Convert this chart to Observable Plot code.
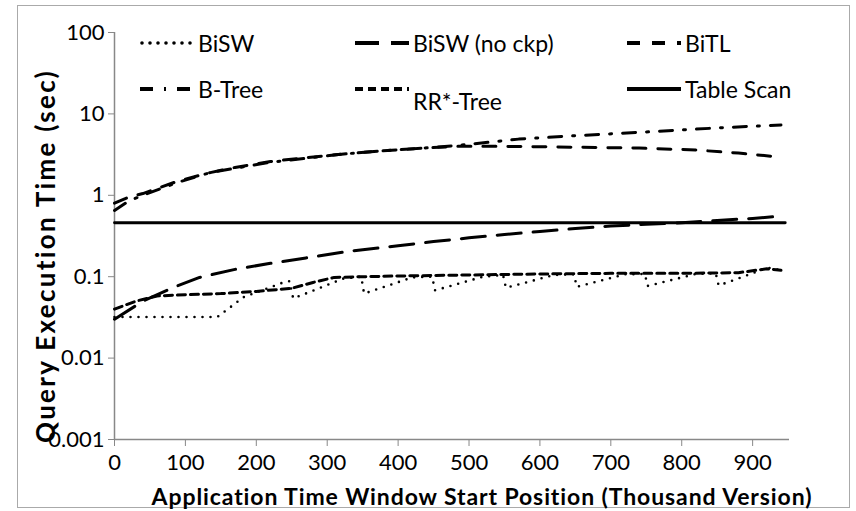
<!DOCTYPE html>
<html>
<head>
<meta charset="utf-8">
<script src="https://cdn.jsdelivr.net/npm/d3@7"></script>
<script src="https://cdn.jsdelivr.net/npm/@observablehq/plot@0.6"></script>
<style>
  html, body { margin:0; padding:0; background:#fff; }
  #wrap { position:relative; width:856px; height:511px; font-family:Lato, "Open Sans", sans-serif; }
  #border { position:absolute; left:17px; top:5px; width:833px; height:503px; border:1.5px solid #aaa; box-sizing:border-box; }
  #chart { position:absolute; left:0; top:0; }
  .lg { position:absolute; display:flex; align-items:center; font-size:23px; color:#000; }
  .lg svg { display:block; }
  #ylab { position:absolute; left:-155px; top:241px; width:400px; height:30px; line-height:30px; text-align:center; transform:rotate(-90deg); transform-origin:200px 15px; font-size:26px; font-weight:bold; letter-spacing:2.3px; white-space:nowrap; }
  #xlab { position:absolute; left:82px; top:482px; width:800px; height:28px; line-height:28px; text-align:center; font-size:23px; font-weight:bold; letter-spacing:0.9px; white-space:nowrap; }
</style>
</head>
<body>
<div id="wrap">
  <div id="border"></div>
  <div id="chart"></div>
  <div id="legend"></div>
  <div id="ylab">Query Execution Time (sec)</div>
  <div id="xlab">Application Time Window Start Position (Thousand Version)</div>
</div>
<script>
// ---- data ----
const xTicks = [0,100,200,300,400,500,600,700,800,900];
const yTicks = [0.001,0.01,0.1,1,10,100];
const yTickLabels = ["0.001","0.01","0.1","1","10","100"];

const biswX = [0,145,182,238,247,252,323,348,352,420,448,452,520,548,552,620,648,652,720,748,752,820,848,852,900,920,940];
const biswY = [0.032,0.032,0.056,0.085,0.088,0.054,0.095,0.1,0.062,0.098,0.1,0.068,0.1,0.105,0.073,0.105,0.107,0.075,0.107,0.108,0.077,0.108,0.11,0.078,0.11,0.13,0.12];

const noCkpX = [0,40,80,120,170,220,270,330,400,450,500,550,600,650,700,750,800,850,900,935];
const noCkpY = [0.03,0.05,0.072,0.098,0.123,0.146,0.17,0.205,0.24,0.27,0.3,0.33,0.36,0.39,0.42,0.44,0.46,0.49,0.52,0.55];

const bitlX = [0,20,40,90,135,170,220,270,320,375,435,485,540,650,740,820,880,930];
const bitlY = [0.8,0.95,1.05,1.5,1.9,2.2,2.6,2.9,3.2,3.5,3.8,4.0,4.0,3.9,3.8,3.6,3.3,3.0];

const btreeX = [0,20,40,90,135,170,220,270,320,375,435,485,570,650,750,860,940];
const btreeY = [0.65,0.85,1.0,1.45,1.9,2.15,2.55,2.85,3.2,3.5,3.8,4.1,4.9,5.4,6.0,6.8,7.3];

const rrX = [0,30,60,100,150,200,250,280,310,350,400,500,600,700,800,880,920,940];
const rrY = [0.04,0.05,0.058,0.06,0.062,0.066,0.072,0.085,0.098,0.1,0.102,0.105,0.108,0.11,0.11,0.112,0.125,0.12];

const scanX = [0,946];
const scanY = [0.46,0.46];

const seriesNames = ["BiSW","BiSW (no ckp)","BiTL","B-Tree","RR*-Tree","Table Scan"];

// ---- build table ----
function rows(name, xs, ys) { return xs.map((x,i) => ({series:name, x, y:ys[i]})); }
const data = {
  "BiSW": rows("BiSW", biswX, biswY),
  "BiSW (no ckp)": rows("BiSW (no ckp)", noCkpX, noCkpY),
  "BiTL": rows("BiTL", bitlX, bitlY),
  "B-Tree": rows("B-Tree", btreeX, btreeY),
  "RR*-Tree": rows("RR*-Tree", rrX, rrY),
  "Table Scan": rows("Table Scan", scanX, scanY)
};
const styles = {
  "BiSW": {stroke:"#000", strokeWidth:2.6, strokeDasharray:"0,8", strokeLinecap:"round"},
  "BiSW (no ckp)": {stroke:"#000", strokeWidth:3, strokeDasharray:"24,12"},
  "BiTL": {stroke:"#000", strokeWidth:3, strokeDasharray:"13,12"},
  "B-Tree": {stroke:"#000", strokeWidth:3, strokeDasharray:"13,11,2,11"},
  "RR*-Tree": {stroke:"#000", strokeWidth:3, strokeDasharray:"8,5"},
  "Table Scan": {stroke:"#000", strokeWidth:2.8}
};

const chart = Plot.plot({
  width:856, height:511,
  marginLeft:114, marginRight:67, marginTop:32, marginBottom:72,
  style:{fontFamily:"Lato, 'Open Sans', sans-serif", background:"transparent", color:"#000"},
  x:{domain:[0,952]},
  y:{type:"log", domain:[0.001,100]},
  marks:[
    Plot.axisY({ticks:yTicks, tickFormat:(d)=>yTickLabels[yTicks.indexOf(d)], tickSize:6, tickPadding:4, fontSize:22, stroke:"#888", fill:"#000", label:null}),
    Plot.axisX({ticks:xTicks, tickSize:7, tickPadding:8, fontSize:22, stroke:"#888", fill:"#000", label:null}),
    Plot.ruleX([0], {stroke:"#888", strokeWidth:1.5}),
    Plot.ruleY([0.001], {stroke:"#888", strokeWidth:1.5}),
    ...seriesNames.map(n => Plot.line(data[n], {x:"x", y:"y", ...styles[n]}))
  ]
});
document.getElementById("chart").appendChild(chart);

// ---- legend ----
const legendPos = [
  {name:"BiSW", left:140, top:43, dy:0},
  {name:"BiSW (no ckp)", left:355, top:43, dy:0},
  {name:"BiTL", left:627, top:43, dy:0},
  {name:"B-Tree", left:140, top:89, dy:0},
  {name:"RR*-Tree", left:355, top:89, dy:12},
  {name:"Table Scan", left:627, top:89, dy:0}
];
const legend = document.getElementById("legend");
legendPos.forEach(p => {
  const st = styles[p.name];
  const div = document.createElement("div");
  div.className = "lg";
  div.style.left = p.left + "px";
  div.style.top = (p.top - 15) + "px";
  div.style.height = "30px";
  const w = 54;
  div.innerHTML = `<svg width="${w}" height="30"><line x1="${st.strokeLinecap?2:0}" y1="15" x2="${w}" y2="15" stroke="#000" stroke-width="${st.strokeWidth+1}" ${st.strokeDasharray?`stroke-dasharray="${st.strokeDasharray}"`:""} ${st.strokeLinecap?`stroke-linecap="round"`:""}/></svg><span style="margin-left:4px;position:relative;top:${p.dy}px">${p.name}</span>`;
  legend.appendChild(div);
});
</script>
</body>
</html>
